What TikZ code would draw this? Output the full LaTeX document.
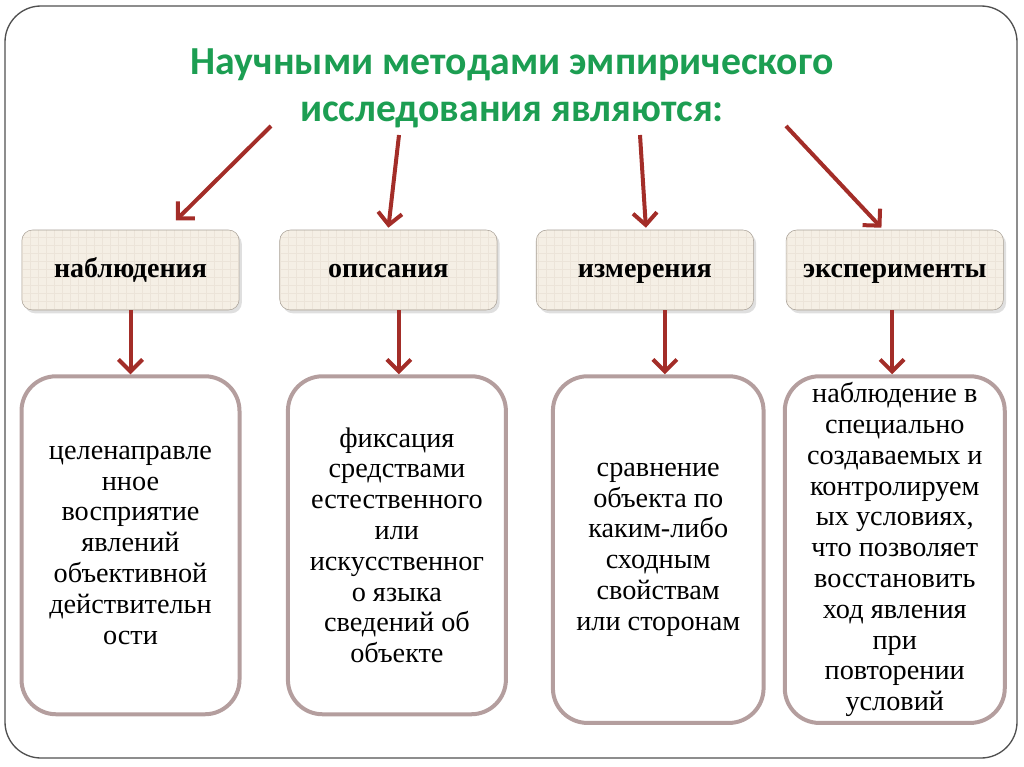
\documentclass[tikz,border=0pt]{standalone}
\usepackage{fontspec}
\setmainfont{Liberation Serif}
\newfontfamily\titlefont{Carlito}
\usepackage{tikz}
\usetikzlibrary{positioning,shapes.geometric}
\usetikzlibrary{arrows.meta,shadows}
\definecolor{titlegreen}{RGB}{28,158,82}
\definecolor{arrowred}{RGB}{163,45,40}
\definecolor{boxfill}{RGB}{245,239,229}
\definecolor{boxgrid}{RGB}{236,228,217}
\definecolor{boxline}{RGB}{168,160,150}
\definecolor{rimline}{RGB}{180,158,158}
\definecolor{frameline}{RGB}{80,80,80}
\tikzstyle{topbox} = [rectangle, draw=boxline, fill=boxfill, rounded corners=8pt,
    minimum width=163pt, minimum height=60pt, inner sep=0pt,
    text height=1.2em, text depth=0.12em,
    font=\fontsize{21}{24}\selectfont\bfseries,
    path picture={\draw [boxgrid, line width=0.4pt, step=6pt]
        (path picture bounding box.south west) grid (path picture bounding box.north east);},
    drop shadow={opacity=0.25, shadow xshift=2pt, shadow yshift=-2.5pt}]
\tikzstyle{textbox} = [rectangle, draw=rimline, line width=3pt, fill=white,
    rounded corners=26pt, minimum width=163.5pt, minimum height=253.5pt,
    align=center, inner sep=0pt,
    font=\fontsize{21.2}{23.1}\selectfont]
\tikzstyle{link} = [draw, line width=3pt, arrowred,
    -{Straight Barb[length=9pt,width=18pt]}]

\begin{document}
\begin{tikzpicture}[x=0.75pt, y=-0.75pt]
    \useasboundingbox (0,0) rectangle (1024,767);
    % frame
    \draw [frameline, line width=1pt, rounded corners=27pt] (5,6) rectangle (1017,758);
    % Place nodes
    \node [titlegreen, align=center, font=\titlefont\fontsize{29.8}{35.5}\selectfont\bfseries]
        (title) at (512,88) {Научными методами эмпирического\\исследования являются:};
    \node [topbox] (t1) at (130.5,270) {наблюдения};
    \node [topbox, right=30pt of t1] (t2) {описания};
    \node [topbox, right=29pt of t2] (t3) {измерения};
    \node [topbox, right=24pt of t3] (t4) {эксперименты};
    \node [textbox, below=48pt of t1] (b1)
        {целенаправле\\нное\\восприятие\\явлений\\объективной\\действительн\\ости};
    \node [textbox, below=48pt of t2, xshift=6.4pt] (b2)
        {фиксация\\средствами\\естественного\\или\\искусственног\\о языка\\сведений об\\объекте};
    \node [textbox, below=48pt of t3, xshift=10pt, minimum width=158pt, minimum height=260pt] (b3)
        {сравнение\\объекта по\\каким-либо\\сходным\\свойствам\\или сторонам};
    \node [textbox, below=48pt of t4, minimum width=165pt, minimum height=260pt] (b4)
        {наблюдение в\\специально\\создаваемых и\\контролируем\\ых условиях,\\что позволяет\\восстановить\\ход явления\\при\\повторении\\условий};
    % arrow starts under the title
    \coordinate (s1) at (271,126);
    \coordinate (s2) at (399,135);
    \coordinate (s3) at (640,135);
    \coordinate (s4) at (786,126);
    % Draw edges
    \path [link] (s1) -- ([xshift=34pt,yshift=7pt]t1.north);
    \path [link] (s2) -- ([yshift=1.5pt]t2.north);
    \path [link] (s3) -- ([xshift=0.75pt,yshift=1.5pt]t3.north);
    \path [link] (s4) -- ([xshift=-10pt,yshift=1.5pt]t4.north);
    \path [link] (b1.north |- t1.south) -- (b1.north);
    \path [link] ([xshift=1.5pt]b2.north |- t2.south) -- ([xshift=1.5pt]b2.north);
    \path [link] ([xshift=5pt]b3.north |- t3.south) -- ([xshift=5pt]b3.north);
    \path [link] ([xshift=-2pt]b4.north |- t4.south) -- ([xshift=-2pt]b4.north);
\end{tikzpicture}
\end{document}
